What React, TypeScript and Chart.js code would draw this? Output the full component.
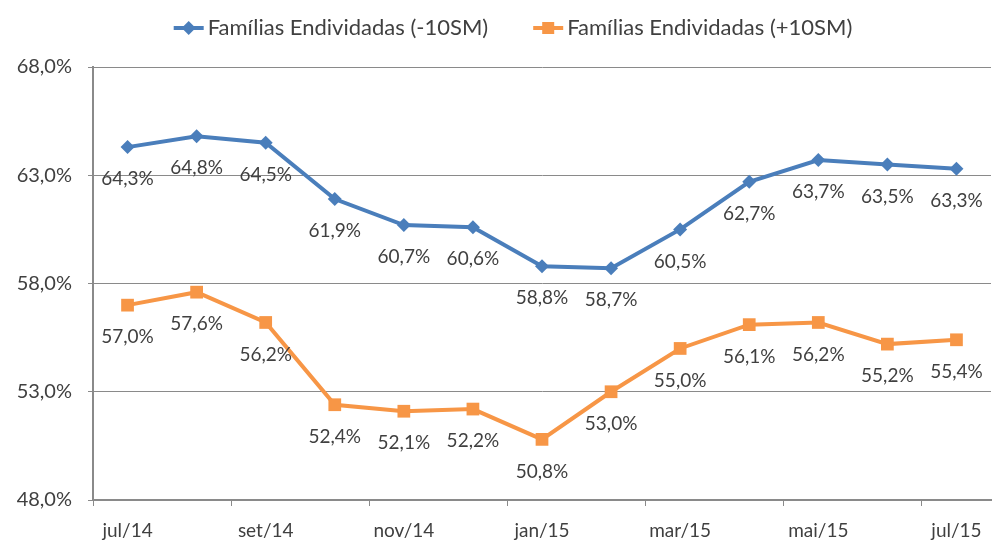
import React, { useEffect, useRef } from "react";
import { Chart, registerables } from "chart.js";
Chart.register(...registerables);

const categories = ["jul/14", "ago/14", "set/14", "out/14", "nov/14", "dez/14", "jan/15", "fev/15", "mar/15", "abr/15", "mai/15", "jun/15", "jul/15"];
const seriesBelow10 = [64.3, 64.8, 64.5, 61.9, 60.7, 60.6, 58.8, 58.7, 60.5, 62.7, 63.7, 63.5, 63.3];
const seriesAbove10 = [57.0, 57.6, 56.2, 52.4, 52.1, 52.2, 50.8, 53.0, 55.0, 56.1, 56.2, 55.2, 55.4];
const seriesNames = ["Famílias Endividadas (-10SM)", "Famílias Endividadas (+10SM)"];
const yMin = 48;
const yMax = 68;
const yStep = 5;

const BLUE = "#4a7ebb";
const ORANGE = "#f79646";
const FONT = "Lato";
const TEXT = "#404040";
const GRID = "#8a8a8a";

const fmt = (v: number) => v.toFixed(1).replace(".", ",") + "%";

const dataLabels = {
  id: "dataLabels",
  afterDatasetsDraw(chart: any) {
    const ctx = chart.ctx;
    ctx.save();
    ctx.font = `19px ${FONT}`;
    ctx.fillStyle = TEXT;
    ctx.textAlign = "center";
    ctx.textBaseline = "middle";
    chart.data.datasets.forEach((ds: any, di: number) => {
      const meta = chart.getDatasetMeta(di);
      meta.data.forEach((pt: any, i: number) => {
        ctx.fillText(fmt(ds.data[i]), pt.x, pt.y + 32);
      });
    });
    ctx.restore();
  },
};

const customLegend = {
  id: "customLegend",
  afterDraw(chart: any) {
    const ctx = chart.ctx;
    ctx.save();
    ctx.font = `22px ${FONT}`;
    const iconW = 30;
    const gapIconText = 4;
    const itemGap = 45;
    const widths = chart.data.datasets.map((ds: any) => iconW + gapIconText + ctx.measureText(ds.label).width);
    const total = widths.reduce((a: number, b: number) => a + b, 0) + itemGap * (widths.length - 1);
    let x = 513 - total / 2;
    const y = 28;
    chart.data.datasets.forEach((ds: any, di: number) => {
      ctx.strokeStyle = ds.borderColor;
      ctx.lineWidth = 4;
      ctx.beginPath();
      ctx.moveTo(x, y);
      ctx.lineTo(x + iconW, y);
      ctx.stroke();
      ctx.fillStyle = ds.borderColor;
      const cx = x + iconW / 2;
      if (ds.pointStyle === "rectRot") {
        ctx.beginPath();
        ctx.moveTo(cx, y - 7);
        ctx.lineTo(cx + 7, y);
        ctx.lineTo(cx, y + 7);
        ctx.lineTo(cx - 7, y);
        ctx.closePath();
        ctx.fill();
      } else {
        ctx.fillRect(cx - 6, y - 6, 12, 12);
      }
      ctx.fillStyle = TEXT;
      ctx.textAlign = "left";
      ctx.textBaseline = "middle";
      ctx.fillText(ds.label, x + iconW + gapIconText, y);
      x += widths[di] + itemGap;
    });
    ctx.restore();
  },
};

export default function App() {
  const ref = useRef<HTMLCanvasElement | null>(null);
  useEffect(() => {
    if (!ref.current) return;
    const chart = new Chart(ref.current, {
      type: "line",
      data: {
        labels: categories,
        datasets: [
          {
            label: seriesNames[0],
            data: seriesBelow10,
            borderColor: BLUE,
            backgroundColor: BLUE,
            borderWidth: 4,
            pointStyle: "rectRot",
            pointRadius: 7,
            pointBorderWidth: 0,
            tension: 0,
          },
          {
            label: seriesNames[1],
            data: seriesAbove10,
            borderColor: ORANGE,
            backgroundColor: ORANGE,
            borderWidth: 4,
            pointStyle: "rect",
            pointRadius: 9,
            pointBorderWidth: 0,
            tension: 0,
          },
        ],
      },
      options: {
        animation: false,
        responsive: true,
        maintainAspectRatio: false,
        layout: { padding: { top: 67, right: 1, left: 0, bottom: 0 } },
        plugins: {
          legend: { display: false },
          tooltip: { enabled: false },
        },
        scales: {
          x: {
            offset: true,
            afterFit: (s: any) => {
              s.height = 42;
            },
            grid: {
              offset: true,
              drawOnChartArea: false,
              drawTicks: true,
              tickLength: 6,
              color: (c: any) => (typeof c.index === "number" && c.index % 2 === 0 ? GRID : "rgba(0,0,0,0)"),
            },
            border: { display: true, color: GRID, width: 2 },
            ticks: {
              autoSkip: false,
              maxRotation: 0,
              padding: 13,
              color: TEXT,
              font: { family: FONT, size: 19 },
              callback: (_v: any, i: number) => (i % 2 === 0 ? categories[i] : ""),
            },
          },
          y: {
            min: yMin,
            max: yMax,
            afterFit: (s: any) => {
              s.width = 93;
            },
            grid: {
              color: GRID,
              lineWidth: 1,
              drawTicks: true,
              tickLength: 5,
            },
            border: { display: true, color: GRID, width: 2 },
            ticks: {
              stepSize: yStep,
              padding: 16,
              color: TEXT,
              font: { family: FONT, size: 20 },
              callback: (v: any) => fmt(Number(v)),
            },
          },
        },
      },
      plugins: [dataLabels, customLegend],
    });
    return () => chart.destroy();
  }, []);
  return (
    <div style={{ position: "fixed", left: 0, top: 0, width: 1000, height: 542, background: "#fff" }}>
      <canvas ref={ref} />
    </div>
  );
}
